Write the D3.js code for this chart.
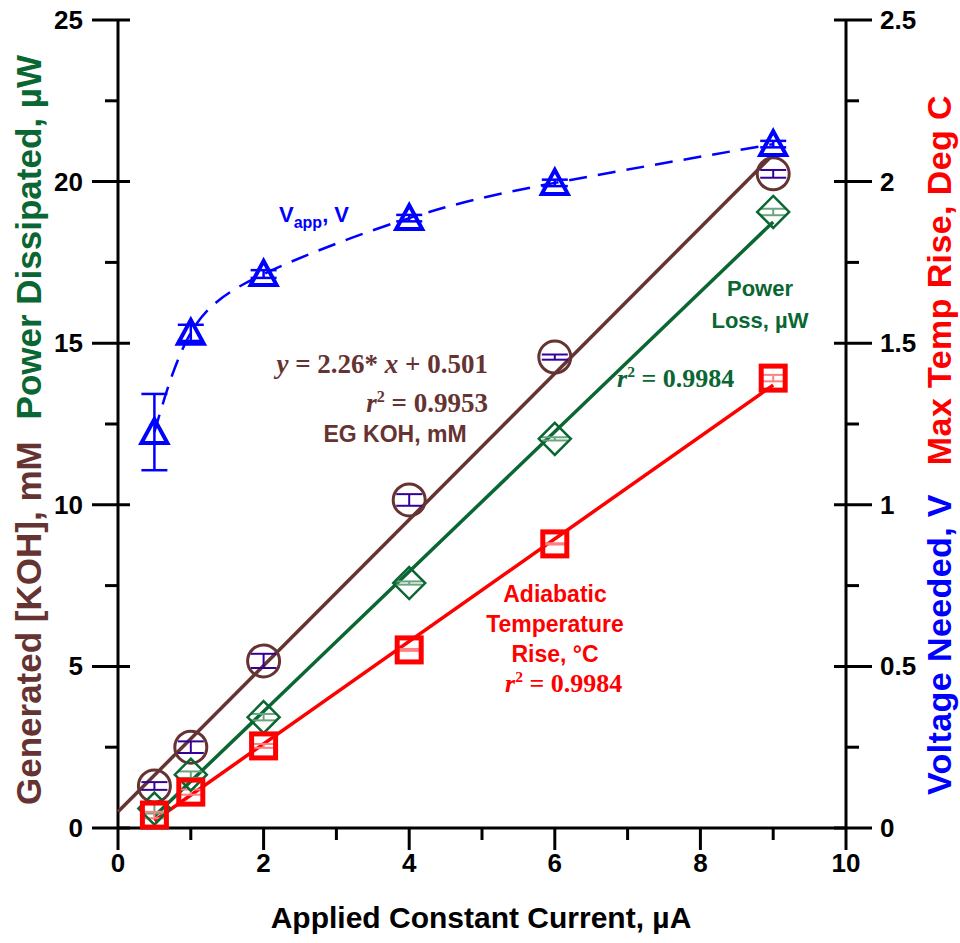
<!DOCTYPE html>
<html>
<head>
<meta charset="utf-8">
<script src="https://cdn.jsdelivr.net/npm/d3@7"></script>
<style>
  html, body { margin: 0; padding: 0; background: #fff; }
  svg { display: block; }
  text { font-family: "Liberation Sans", Arial, sans-serif; font-weight: bold; }
  .serif { font-family: "Liberation Serif", "Times New Roman", serif; }
</style>
</head>
<body>
<svg id="chart" width="960" height="943"></svg>
<script>
// Applied constant current, µA
const current = [0.5, 1, 2, 4, 6, 9];
// Generated KOH, mM (left axis) with error
const kohMM  = [1.30, 2.50, 5.17, 10.15, 14.57, 20.24];
const kohErr = [0.12, 0.18, 0.22, 0.18, 0.08, 0.12];
// Power dissipated, µW (left axis) with error
const powerUW  = [0.60, 1.65, 3.43, 7.58, 12.04, 19.06];
const powerErr = [0.15, 0.10, 0.10, 0.05, 0.05, 0.10];
// Max adiabatic temperature rise, deg C (right axis) with error
const tempRise = [0.040, 0.111, 0.254, 0.551, 0.879, 1.392];
const tempErr  = [0.010, 0.008, 0.006, 0.003, 0.002, 0.010];
// Applied voltage, V (right axis) with error
const voltage = [1.225, 1.532, 1.714, 1.887, 1.996, 2.116];
const voltErr = [0.118, 0.025, 0.012, 0.010, 0.010, 0.010];
// KOH linear fit
const kohFit = { slope: 2.26, intercept: 0.501, x0: 0, x1: 9 };

const xTicks = [0, 2, 4, 6, 8, 10];
const xMinor = [1, 3, 5, 7, 9];
const yLTicks = [0, 5, 10, 15, 20, 25];
const yLMinor = [2.5, 7.5, 12.5, 17.5, 22.5];
const yRTicks = [0, 0.5, 1, 1.5, 2, 2.5];
const yRMinor = [0.25, 0.75, 1.25, 1.75, 2.25];

const C = {
  brown: "#663333", green: "#0a6632", red: "#ff0000", blue: "#0000ff",
  indigo: "#330099", lightGreen: "#6aa57f", lightRed: "#ff8080"
};

const svg = d3.select("#chart");
const x = d3.scaleLinear().domain([0, 10]).range([118, 846]);
const yL = d3.scaleLinear().domain([0, 25]).range([828, 20]);
const yR = d3.scaleLinear().domain([0, 2.5]).range([828, 20]);

// ordinary least squares fit
function linfit(xs, ys) {
  const n = xs.length, mx = d3.mean(xs), my = d3.mean(ys);
  let sxy = 0, sxx = 0;
  for (let i = 0; i < n; i++) { sxy += (xs[i]-mx)*(ys[i]-my); sxx += (xs[i]-mx)**2; }
  const slope = sxy / sxx;
  return { slope, intercept: my - slope * mx };
}

// ---- axes ----
const axes = svg.append("g").attr("stroke", "#000").attr("stroke-width", 3).attr("fill", "none");
axes.append("line").attr("x1", x(0)).attr("x2", x(10)).attr("y1", yL(0)).attr("y2", yL(0));
axes.append("line").attr("x1", x(0)).attr("x2", x(0)).attr("y1", yL(25)).attr("y2", yL(0));
axes.append("line").attr("x1", x(10)).attr("x2", x(10)).attr("y1", yL(25)).attr("y2", yL(0));

// bottom ticks
xTicks.forEach(t => axes.append("line").attr("x1", x(t)).attr("x2", x(t)).attr("y1", yL(0)).attr("y2", yL(0) + 22));
xMinor.forEach(t => axes.append("line").attr("x1", x(t)).attr("x2", x(t)).attr("y1", yL(0)).attr("y2", yL(0) + 12));
// left ticks
yLTicks.forEach(t => axes.append("line").attr("x1", x(0) - 26).attr("x2", x(0) + 12).attr("y1", yL(t)).attr("y2", yL(t)));
yLMinor.forEach(t => axes.append("line").attr("x1", x(0) - 13).attr("x2", x(0)).attr("y1", yL(t)).attr("y2", yL(t)));
// right ticks
yRTicks.forEach(t => axes.append("line").attr("x1", x(10) - 12).attr("x2", x(10) + 26).attr("y1", yR(t)).attr("y2", yR(t)));
yRMinor.forEach(t => axes.append("line").attr("x1", x(10)).attr("x2", x(10) + 13).attr("y1", yR(t)).attr("y2", yR(t)));

// tick labels
const fmt = d => String(d);
svg.append("g").selectAll("text").data(xTicks).join("text")
  .attr("x", d => x(d)).attr("y", 872).attr("text-anchor", "middle")
  .attr("font-size", 26).text(fmt);
svg.append("g").selectAll("text").data(yLTicks).join("text")
  .attr("x", 83).attr("y", d => yL(d) + 9).attr("text-anchor", "end")
  .attr("font-size", 26).text(fmt);
svg.append("g").selectAll("text").data(yRTicks).join("text")
  .attr("x", 880).attr("y", d => yR(d) + 9).attr("text-anchor", "start")
  .attr("font-size", 26).text(fmt);

// axis titles
svg.append("text").attr("x", 481).attr("y", 928).attr("text-anchor", "middle")
  .attr("font-size", 30).text("Applied Constant Current, µA");

svg.append("text").attr("transform", "translate(41,805) rotate(-90)")
  .attr("font-size", 35).attr("fill", C.brown).text("Generated [KOH], mM");
svg.append("text").attr("transform", "translate(41,55) rotate(-90)")
  .attr("text-anchor", "end").attr("font-size", 35).attr("fill", C.green).text("Power Dissipated, µW");

svg.append("text").attr("transform", "translate(951,795) rotate(-90)")
  .attr("font-size", 34).attr("letter-spacing", 0.4).attr("fill", C.blue).text("Voltage Needed, V");
svg.append("text").attr("transform", "translate(951,95) rotate(-90)")
  .attr("text-anchor", "end").attr("font-size", 34).attr("letter-spacing", 0.4).attr("fill", C.red).text("Max Temp Rise, Deg C");

// ---- fit lines ----
const line = (ys) => d3.line().x(d => x(d[0])).y(d => ys(d[1]));

svg.append("path").attr("fill", "none").attr("stroke", C.brown).attr("stroke-width", 3.5)
  .attr("d", line(yL)([[kohFit.x0, kohFit.intercept + kohFit.slope * kohFit.x0],
                       [kohFit.x1, kohFit.intercept + kohFit.slope * kohFit.x1]]));

const pf = linfit(current, powerUW);
svg.append("path").attr("fill", "none").attr("stroke", C.green).attr("stroke-width", 3.5)
  .attr("d", line(yL)([[current[0], pf.intercept + pf.slope * current[0]],
                       [current[5], pf.intercept + pf.slope * current[5]]]));

const tf = linfit(current, tempRise);
svg.append("path").attr("fill", "none").attr("stroke", C.red).attr("stroke-width", 3.5)
  .attr("d", line(yR)([[current[0], tf.intercept + tf.slope * current[0]],
                       [current[5], tf.intercept + tf.slope * current[5]]]));

// voltage curve through the measurements
svg.append("path").attr("fill", "none").attr("stroke", C.blue).attr("stroke-width", 2.5)
  .attr("stroke-dasharray", "18,11")
  .attr("d", d3.line().curve(d3.curveNatural).x(d => x(d[0])).y(d => yR(d[1]))(d3.zip(current, voltage)));

// ---- error bars ----
function errorBars(vals, errs, ys, color, cap, sw) {
  const g = svg.append("g").attr("stroke", color).attr("stroke-width", sw);
  current.forEach((c, i) => {
    const cx = x(c), top = ys(vals[i] + errs[i]), bot = ys(vals[i] - errs[i]);
    g.append("line").attr("x1", cx).attr("x2", cx).attr("y1", top).attr("y2", bot);
    g.append("line").attr("x1", cx - cap).attr("x2", cx + cap).attr("y1", top).attr("y2", top);
    g.append("line").attr("x1", cx - cap).attr("x2", cx + cap).attr("y1", bot).attr("y2", bot);
  });
}
errorBars(kohMM, kohErr, yL, C.indigo, 13, 2);
errorBars(powerUW, powerErr, yL, C.lightGreen, 13, 2);
errorBars(tempRise, tempErr, yR, C.lightRed, 12, 2);
errorBars(voltage, voltErr, yR, C.blue, 13, 2.5);

// ---- markers ----
svg.append("g").selectAll("circle").data(d3.zip(current, kohMM)).join("circle")
  .attr("cx", d => x(d[0])).attr("cy", d => yL(d[1])).attr("r", 16)
  .attr("fill", "none").attr("stroke", C.brown).attr("stroke-width", 3);

svg.append("g").selectAll("path").data(d3.zip(current, powerUW)).join("path")
  .attr("transform", d => `translate(${x(d[0])},${yL(d[1])})`)
  .attr("d", "M0,-16L16,0L0,16L-16,0Z")
  .attr("fill", "none").attr("stroke", C.green).attr("stroke-width", 2.5);

svg.append("g").selectAll("rect").data(d3.zip(current, tempRise)).join("rect")
  .attr("x", d => x(d[0]) - 12).attr("y", d => yR(d[1]) - 12).attr("width", 24).attr("height", 24)
  .attr("fill", "none").attr("stroke", C.red).attr("stroke-width", 5);

svg.append("g").selectAll("path").data(d3.zip(current, voltage)).join("path")
  .attr("transform", d => `translate(${x(d[0])},${yR(d[1])})`)
  .attr("d", "M0,-13L13,11L-13,11Z")
  .attr("fill", "none").attr("stroke", C.blue).attr("stroke-width", 4).attr("stroke-linejoin", "miter");

// ---- annotations ----
const vapp = svg.append("text").attr("x", 279).attr("y", 222).attr("font-size", 22).attr("fill", C.blue);
vapp.append("tspan").text("V");
vapp.append("tspan").attr("font-size", 16).attr("dy", 6).text("app");
vapp.append("tspan").attr("dy", -6).text(", V");

svg.append("text").attr("x", 760).attr("y", 296).attr("text-anchor", "middle")
  .attr("font-size", 22).attr("fill", C.green).text("Power");
svg.append("text").attr("x", 760).attr("y", 328).attr("text-anchor", "middle")
  .attr("font-size", 22).attr("fill", C.green).text("Loss, µW");

function rsq(xp, yp, val, color, size, anchor) {
  const t = svg.append("text").attr("class", "serif").attr("x", xp).attr("y", yp)
    .attr("font-size", size).attr("fill", color).attr("text-anchor", anchor || "start");
  t.append("tspan").attr("font-style", "italic").text("r");
  t.append("tspan").attr("font-size", size * 0.6).attr("dy", -size * 0.38).text("2");
  t.append("tspan").attr("dy", size * 0.38).text(" = " + val);
}
rsq(617, 387, "0.9984", C.green, 26);
rsq(488, 412, "0.9953", C.brown, 27, "end");
rsq(505, 692, "0.9984", C.red, 26);

const eq = svg.append("text").attr("class", "serif").attr("x", 488).attr("y", 373)
  .attr("font-size", 27).attr("fill", C.brown).attr("text-anchor", "end");
eq.append("tspan").attr("font-style", "italic").text("y");
eq.append("tspan").text(` = ${kohFit.slope}* `);
eq.append("tspan").attr("font-style", "italic").text("x");
eq.append("tspan").text(` + ${kohFit.intercept}`);

svg.append("text").attr("x", 395).attr("y", 442).attr("text-anchor", "middle")
  .attr("font-size", 23).attr("fill", C.brown).text("EG KOH, mM");

[["Adiabatic", 602], ["Temperature", 632], ["Rise, °C", 662]].forEach(([s, yy]) =>
  svg.append("text").attr("x", 555).attr("y", yy).attr("text-anchor", "middle")
    .attr("font-size", 23).attr("fill", C.red).text(s));
</script>
</body>
</html>
